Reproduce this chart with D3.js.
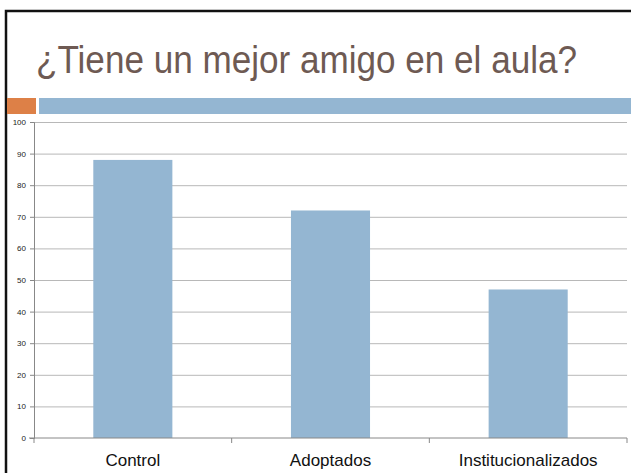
<!DOCTYPE html>
<html>
<head>
<meta charset="utf-8">
<script src="https://cdn.jsdelivr.net/npm/d3@7"></script>
<style>
  html, body { margin: 0; padding: 0; background: #fff; overflow: hidden; }
  svg { display: block; font-family: "Liberation Sans", Arial, sans-serif; }
  .grid line { stroke: #b8b8b8; }
  .grid path { display: none; }
</style>
</head>
<body>
<div id="chart"></div>
<script>
// chart data
const titleText = '¿Tiene un mejor amigo en el aula?';
const categories = ['Control', 'Adoptados', 'Institucionalizados'];
const values = [88, 72, 47];
const yTicks = [0, 10, 20, 30, 40, 50, 60, 70, 80, 90, 100];

const fullWidth = 631;
const fullHeight = 473;
const margin = {top: 122, right: 4, bottom: 35, left: 34};
const width = fullWidth - margin.left - margin.right;
const height = fullHeight - margin.top - margin.bottom;

const svg = d3.select('#chart')
  .append('svg')
  .attr('width', fullWidth)
  .attr('height', fullHeight);

// slide frame
svg.append('rect')
  .attr('x', 6).attr('y', 11)
  .attr('width', 700).attr('height', 600)
  .attr('fill', 'none')
  .attr('stroke', '#111')
  .attr('stroke-width', 2.5);

svg.append('text')
  .attr('x', 36)
  .attr('y', 73)
  .attr('fill', '#6e5a53')
  .style('font-size', '38px')
  .attr('textLength', 541)
  .attr('lengthAdjust', 'spacingAndGlyphs')
  .text(titleText);

// decorative strips under the title
svg.append('rect')
  .attr('x', 7).attr('y', 98).attr('width', 29).attr('height', 16)
  .attr('fill', '#dd8047');
svg.append('rect')
  .attr('x', 39).attr('y', 98).attr('width', fullWidth - 39).attr('height', 16)
  .attr('fill', '#94b6d2');

const g = svg.append('g')
  .attr('transform', `translate(${margin.left},${margin.top})`);

const xScale = d3.scaleBand()
  .domain(categories)
  .range([0, width])
  .paddingInner(0.6)
  .paddingOuter(0.3);

const yScale = d3.scaleLinear()
  .domain([0, 100])
  .range([height, 0]);

// gridlines
g.append('g')
  .attr('class', 'grid')
  .call(d3.axisLeft(yScale).tickValues(yTicks.slice(1)).tickSize(-width).tickFormat(''));

g.selectAll('rect.bar')
  .data(values)
  .enter()
  .append('rect')
  .attr('class', 'bar')
  .attr('x', (d, i) => xScale(categories[i]))
  .attr('y', d => yScale(d))
  .attr('width', xScale.bandwidth())
  .attr('height', d => height - yScale(d))
  .attr('fill', '#94b6d2');

// y axis
const yAxis = g.append('g')
  .call(d3.axisLeft(yScale).tickValues(yTicks).tickSize(4).tickPadding(4));
yAxis.select('.domain').attr('stroke', '#888');
yAxis.selectAll('.tick line').attr('stroke', '#888');
yAxis.selectAll('text').style('font-size', '8px').attr('fill', '#222');

// x axis with ticks between categories
const step = width / categories.length;
const xAxis = g.append('g')
  .attr('transform', `translate(0,${height})`);
xAxis.append('line')
  .attr('x1', -5).attr('x2', width)
  .attr('stroke', '#888');
xAxis.selectAll('line.sep')
  .data(d3.range(categories.length + 1))
  .enter()
  .append('line')
  .attr('class', 'sep')
  .attr('x1', d => d * step).attr('x2', d => d * step)
  .attr('y1', 0).attr('y2', 5)
  .attr('stroke', '#888');
xAxis.selectAll('text')
  .data(categories)
  .enter()
  .append('text')
  .attr('x', d => xScale(d) + xScale.bandwidth() / 2)
  .attr('y', 28)
  .attr('text-anchor', 'middle')
  .attr('fill', '#111')
  .style('font-size', '17px')
  .text(d => d);
</script>
</body>
</html>
